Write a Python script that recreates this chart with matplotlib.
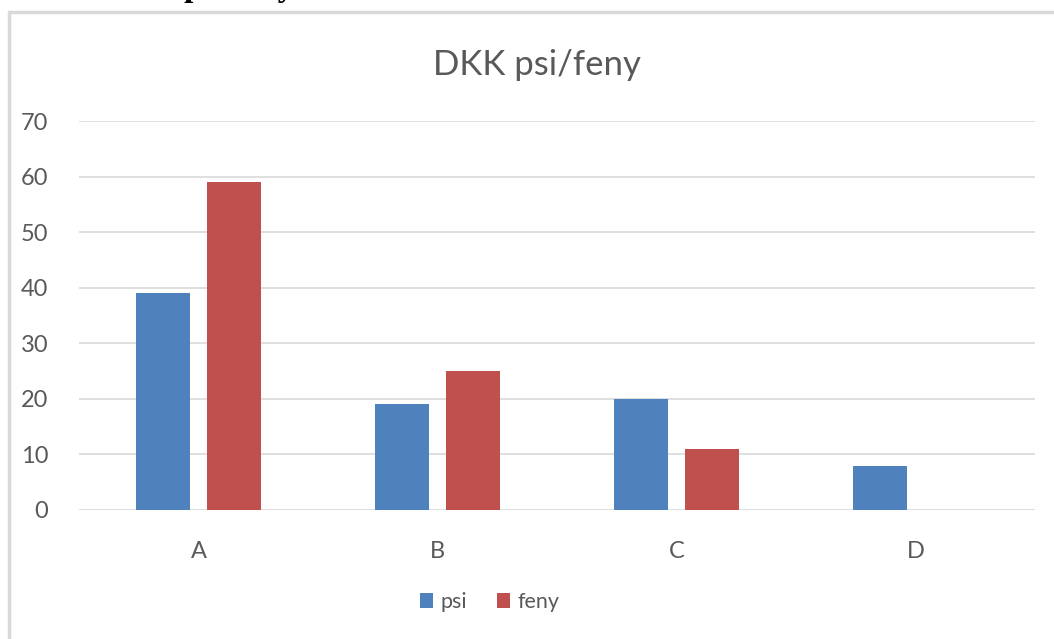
import matplotlib
matplotlib.use("Agg")
from matplotlib import pyplot as plt
from matplotlib.patches import Rectangle
import numpy as np

categories = ["A", "B", "C", "D"]
psi = [39, 19, 20, 8]
feny = [59, 25, 11, 0]
yticks = [0, 10, 20, 30, 40, 50, 60, 70]

plt.rcParams["font.family"] = ["Lato", "DejaVu Sans"]

W, H = 1054, 639
fig = plt.figure(figsize=(W / 100, H / 100), dpi=100)

# chart frame (cut off at right and bottom)
fig.patches.append(Rectangle((9 / W, -0.05), 1.1, 1 - 12 / H + 0.05, transform=fig.transFigure,
                             fill=False, edgecolor="#d9d9d9", lw=2.5))

# cut-off caption above the chart, only descenders visible
fig.text(183 / W, 1 + 4 / H, "psi/feny", fontsize=24, fontweight="bold",
         family="Liberation Serif", ha="left", va="baseline", color="black")

ax = fig.add_axes([79 / W, 1 - 510 / H, (1035 - 79) / W, (510 - 121) / H])

x = np.arange(len(categories))
w = 0.226
gap = 0.068
ax.bar(x - (w + gap) / 2, psi, w, color="#4f81bd", label="psi", zorder=3)
ax.bar(x + (w + gap) / 2, feny, w, color="#c0504d", label="feny", zorder=3)

ax.set_xlim(-0.5, len(categories) - 0.5)
ax.set_ylim(0, 70)
ax.set_yticks(yticks)
ax.set_xticks(x)
ax.set_xticklabels(categories)
ax.grid(axis="y", color="#d9d9d9", lw=1.2, zorder=0)
for s in ax.spines.values():
    s.set_visible(False)
ax.tick_params(length=0, labelsize=17, colors="#595959")
ax.tick_params(axis="y", pad=22)
ax.tick_params(axis="x", pad=22)

fig.text(537 / W, 1 - 65 / H, "DKK psi/feny", fontsize=25, color="#595959",
         ha="center", va="center")

ax.legend(loc="center", bbox_to_anchor=(490 / W, 1 - 602 / H), bbox_transform=fig.transFigure,
          ncol=2, frameon=False, fontsize=15.5, labelcolor="#595959",
          handlelength=0.6, handleheight=0.75, handletextpad=0.35, columnspacing=1.4)

fig.savefig("out.png", dpi=100)
